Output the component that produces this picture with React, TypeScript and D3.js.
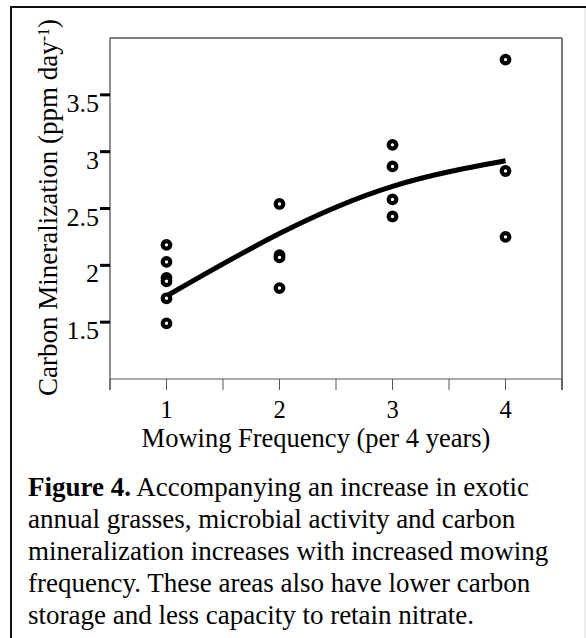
import * as d3 from "d3";
import { useEffect, useRef } from "react";

// mowing frequency groups and observed carbon mineralization
const freqX = [1, 1, 1, 1, 1, 1, 2, 2, 2, 2, 3, 3, 3, 3, 4, 4, 4];
const carbonY = [2.18, 2.03, 1.89, 1.86, 1.71, 1.49, 2.54, 2.09, 2.07, 1.8, 3.06, 2.87, 2.58, 2.43, 3.81, 2.83, 2.25];

// fitted curve
const fitX = [1, 2, 3, 4];
const fitY = [1.73, 2.28, 2.695, 2.92];

const yTicks = [1.5, 2, 2.5, 3, 3.5];
const xTicks = [1, 2, 3, 4];
const xMinorTicks = [0.5, 1.5, 2.5, 3.5, 4.5];

const captionLines = [
  "Accompanying an increase in exotic",
  "annual grasses, microbial activity and carbon",
  "mineralization increases with increased mowing",
  "frequency. These areas also have lower carbon",
  "storage and less capacity to retain nitrate.",
];

const FONT = "'Liberation Serif', 'Times New Roman', serif";

export default function App() {
  const ref = useRef<SVGSVGElement>(null);

  useEffect(() => {
    const svg = d3.select(ref.current);
    svg.selectAll("*").remove();

    const width = 586;
    const height = 638;
    svg.attr("width", width).attr("height", height);

    svg.append("rect").attr("width", width).attr("height", height).attr("fill", "white");

    // outer frame
    svg.append("line").attr("x1", 11).attr("x2", 586).attr("y1", 7).attr("y2", 7)
      .attr("stroke", "#111").attr("stroke-width", 2);
    svg.append("line").attr("x1", 11).attr("x2", 11).attr("y1", 6).attr("y2", 638)
      .attr("stroke", "#111").attr("stroke-width", 2);
    svg.append("line").attr("x1", 585).attr("x2", 585).attr("y1", 8).attr("y2", 638)
      .attr("stroke", "#ddd").attr("stroke-width", 1);

    const x = d3.scaleLinear().domain([0.5, 4.5]).range([110, 562]);
    const y = d3.scaleLinear().domain([1, 4]).range([379, 38]);

    // plot frame
    svg.append("line").attr("x1", x(0.5)).attr("x2", x(4.5)).attr("y1", y(4)).attr("y2", y(4))
      .attr("stroke", "#000").attr("stroke-width", 1);
    svg.append("line").attr("x1", x(4.5)).attr("x2", x(4.5)).attr("y1", y(4)).attr("y2", y(1) + 11)
      .attr("stroke", "#777").attr("stroke-width", 2);
    svg.append("line").attr("x1", x(0.5)).attr("x2", x(0.5)).attr("y1", y(4)).attr("y2", y(1) + 11)
      .attr("stroke", "#222").attr("stroke-width", 1);
    svg.append("line").attr("x1", x(0.5)).attr("x2", x(4.5)).attr("y1", y(1)).attr("y2", y(1))
      .attr("stroke", "#555").attr("stroke-width", 1);

    // y ticks (thick, label hangs below tick)
    const yt = svg.append("g");
    yt.selectAll("line").data(yTicks).join("line")
      .attr("x1", 100).attr("x2", 110)
      .attr("y1", d => y(d)).attr("y2", d => y(d))
      .attr("stroke", "#000").attr("stroke-width", 3);
    yt.selectAll("text").data(yTicks).join("text")
      .attr("x", 99).attr("y", d => y(d) + 17)
      .attr("text-anchor", "end")
      .style("font-family", FONT).style("font-size", "26px")
      .text(d => String(d));

    // x ticks
    const xt = svg.append("g");
    xt.selectAll("line").data(xMinorTicks.concat(xTicks)).join("line")
      .attr("x1", d => x(d)).attr("x2", d => x(d))
      .attr("y1", y(1)).attr("y2", y(1) + 11)
      .attr("stroke", "#555").attr("stroke-width", 1);
    xt.selectAll("text").data(xTicks).join("text")
      .attr("x", d => x(d)).attr("y", 418)
      .attr("text-anchor", "middle")
      .style("font-family", FONT).style("font-size", "24.5px")
      .text(d => String(d));

    // axis titles
    svg.append("text")
      .attr("x", 316).attr("y", 447)
      .attr("text-anchor", "middle")
      .style("font-family", FONT).style("font-size", "26.5px")
      .text("Mowing Frequency (per 4 years)");

    const yl = svg.append("text")
      .attr("transform", "translate(57,207.5) rotate(-90)")
      .attr("text-anchor", "middle")
      .style("font-family", FONT).style("font-size", "27px");
    yl.append("tspan").text("Carbon Mineralization (ppm day");
    yl.append("tspan").attr("baseline-shift", "super").style("font-size", "16px").text("-1");
    yl.append("tspan").text(")");

    // fitted curve
    const line = d3.line<number>()
      .x((d, i) => x(fitX[i]))
      .y(d => y(d))
      .curve(d3.curveNatural);
    svg.append("path")
      .attr("d", line(fitY))
      .attr("fill", "none")
      .attr("stroke", "#000")
      .attr("stroke-width", 5);

    // observations
    svg.append("g").selectAll("circle").data(carbonY).join("circle")
      .attr("cx", (d, i) => x(freqX[i]))
      .attr("cy", d => y(d))
      .attr("r", 3.8)
      .attr("fill", "white")
      .attr("stroke", "#000")
      .attr("stroke-width", 4.2);

    // caption
    const cap = svg.append("g").style("font-family", FONT).style("font-size", "27px");
    cap.selectAll("text").data(captionLines).join("text")
      .attr("x", 28)
      .attr("y", (d, i) => 496 + i * 32)
      .each(function (d, i) {
        const t = d3.select(this);
        if (i === 0) {
          t.append("tspan").style("font-weight", "bold").text("Figure 4.");
          t.append("tspan").text(" " + d);
        } else {
          t.text(d);
        }
      });
  }, []);

  return (
    <div style={{ position: "absolute", left: 0, top: 0 }}>
      <svg ref={ref}></svg>
    </div>
  );
}
